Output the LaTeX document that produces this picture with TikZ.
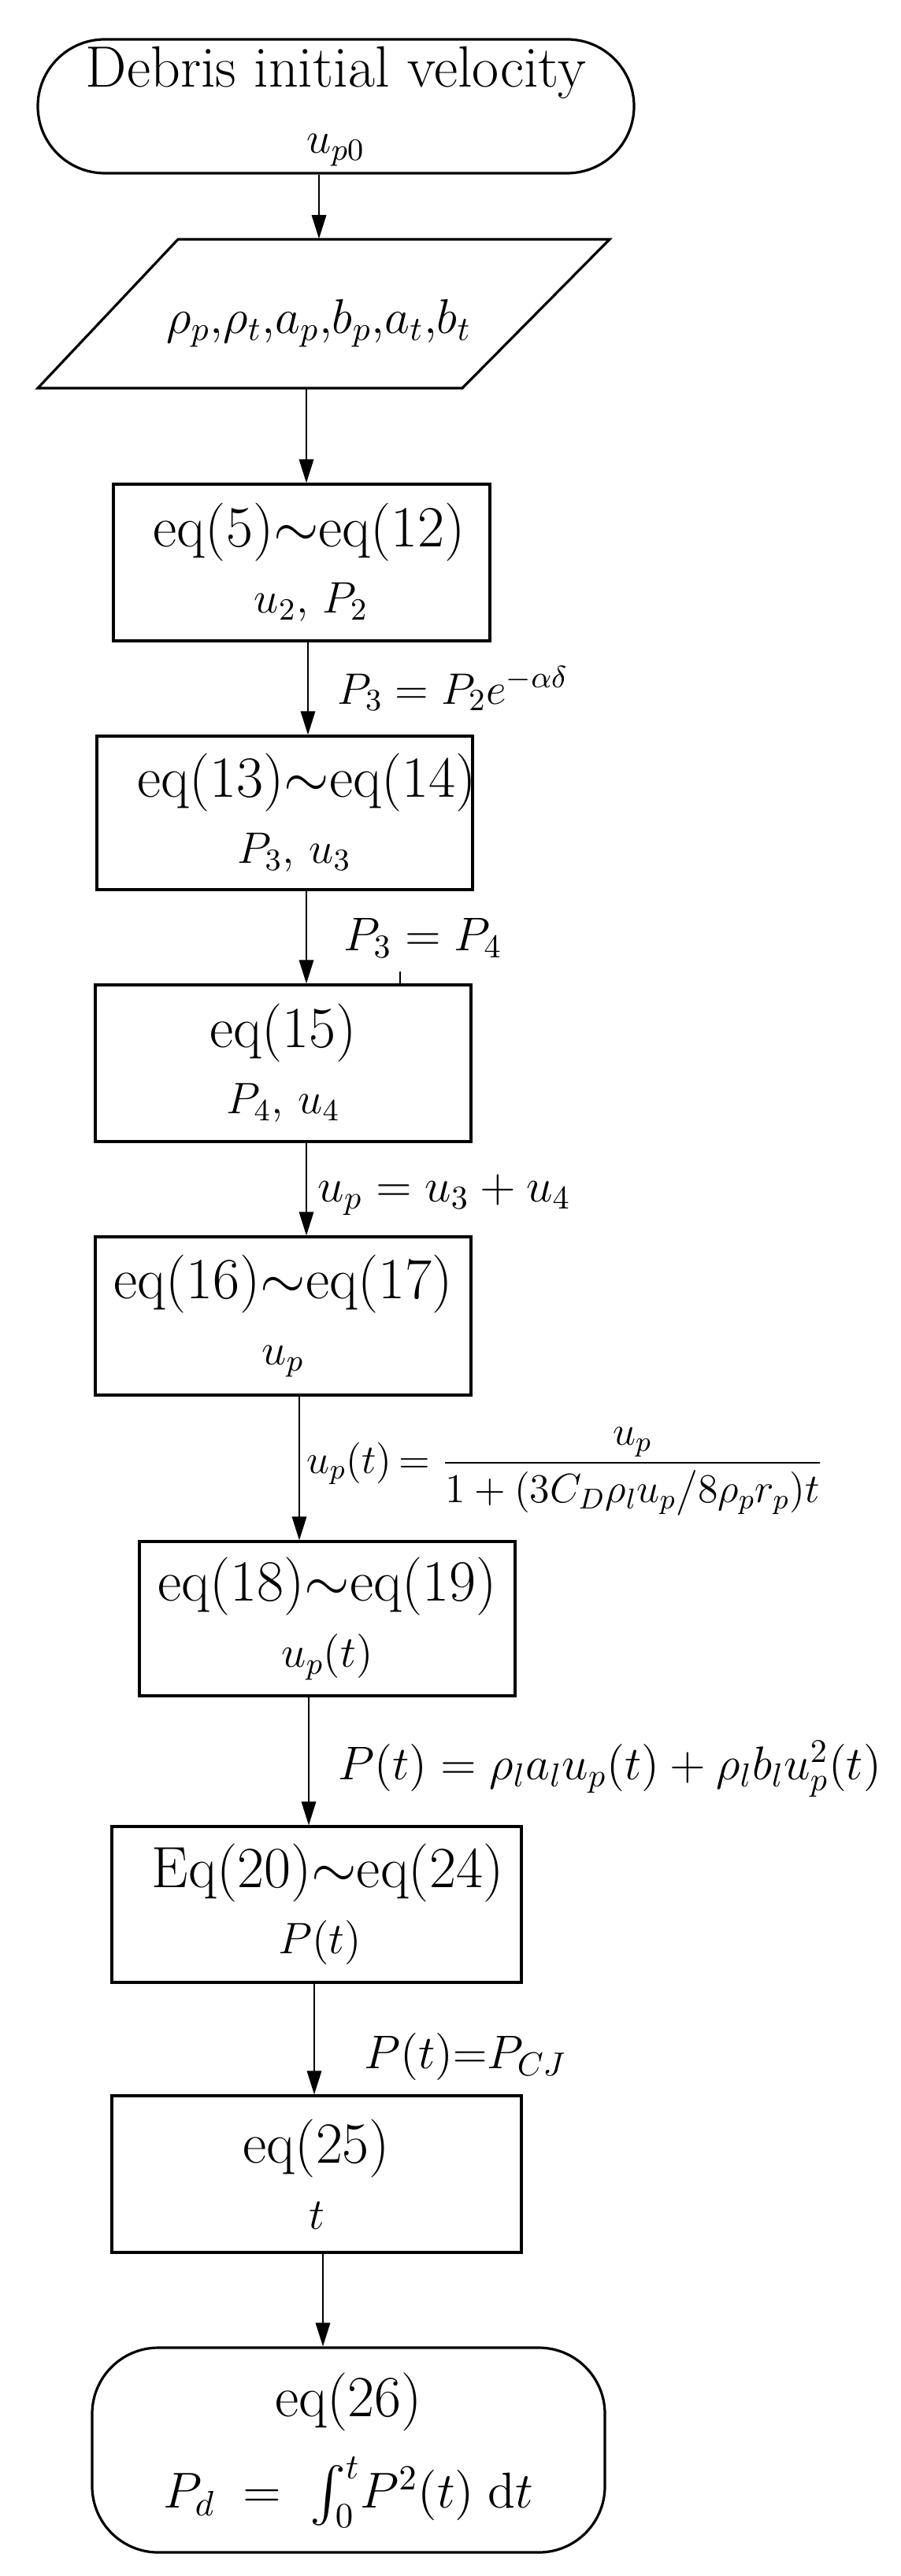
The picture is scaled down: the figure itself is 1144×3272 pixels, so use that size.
\RequirePackage{fix-cm}
\documentclass[tikz,border=0pt]{standalone}
\usepackage{amsmath}
\usetikzlibrary{arrows.meta}
\newcommand\fA{\fontsize{18.5}{21}\selectfont}
\newcommand\fB{\fontsize{14}{21}\selectfont}
\newcommand\fC{\fontsize{15}{18}\selectfont}
\newcommand\fCs{\fontsize{14}{18}\selectfont}
\newcommand\fD{\fontsize{13}{16}\selectfont}
\newcommand\fE{\fontsize{16}{21}\selectfont}
\newcommand\sh[2]{\makebox[0pt]{\hspace*{#1}#2}}
\begin{document}
\begin{tikzpicture}[x=0.25pt,y=-0.25pt,
  box/.style={draw, line width=0.8pt, inner sep=0pt, align=center, font=\fA},
  arr/.style={line width=0.5pt, -{Triangle[length=7.5pt,width=4.6pt]}},
  lab/.style={anchor=base west, inner sep=0pt, font=\fC},
]
\fill[white] (0,0) rectangle (1144,3272);
\useasboundingbox (0,0) rectangle (1144,3272);

% arrow x positions
\coordinate (x1) at (405,0);
\coordinate (x2) at (389,0);
\coordinate (x3) at (391,0);
\coordinate (x4) at (389,0);
\coordinate (x5) at (389,0);
\coordinate (x6) at (380,0);
\coordinate (x7) at (392,0);
\coordinate (x8) at (399,0);
\coordinate (x9) at (410,0);
\coordinate (xt) at (508,0);

% nodes
\node[box, rounded corners=21.25pt, minimum width=189.25pt, minimum height=42.5pt] (start) at (426.5,135)
  {Debris initial velocity\\{\fB$u_{p0}$}};

\node[inner sep=0pt, minimum width=137pt, minimum height=47.25pt, font=\fontsize{15.5}{18}\selectfont] (para) at (405,398.5)
  {\raisebox{-3pt}[\height][\depth]{$\rho_p{,}\rho_t{,}a_p{,}b_p{,}a_t{,}b_t$}};
\draw[line width=0.8pt, line join=miter] (226,304) -- (774,304) -- (587,493) -- (48,493) -- cycle;

\node[box, minimum width=119.5pt, minimum height=49.75pt] (b1) at (383,714.5)
  {\sh{5pt}{eq(5)$\sim$eq(12)}\\{\fB\sh{6pt}{$u_2$, $P_2$}}};
\node[box, minimum width=119.25pt, minimum height=48.75pt] (b2) at (361.5,1032.5)
  {\sh{14pt}{eq(13)$\sim$eq(14)}\\{\fB\sh{6pt}{$P_3$, $u_3$}}};
\node[box, minimum width=119.25pt, minimum height=49.75pt] (b3) at (359.5,1350.5)
  {eq(15)\\{\fB$P_4$, $u_4$}};
\node[box, minimum width=119.25pt, minimum height=50.25pt] (b4) at (359.5,1671.5)
  {eq(16)$\sim$eq(17)\\{\fB$u_p$}};
\node[box, minimum width=119.25pt, minimum height=49pt] (b5) at (415.5,2056)
  {eq(18)$\sim$eq(19)\\{\fB$u_p(t)$}};
\node[box, minimum width=130pt, minimum height=49.5pt] (b6) at (402,2419)
  {\sh{7pt}{Eq(20)$\sim$eq(24)}\\{\fB\sh{2pt}{$P(t)$}}};
\node[box, minimum width=130pt, minimum height=49.75pt] (b7) at (402,2761.5)
  {eq(25)\\{\fB$t$}};
\node[box, rounded corners=21pt, minimum width=162.75pt, minimum height=65pt] (end) at (442.5,3112)
  {eq(26)\\[8pt]{\fE$P_d \;=\; \int_0^t \! P^2(t)\;\mathrm{d}t$}};

% connectors
\draw[arr] (start.south -| x1) -- (para.north -| x1);
\draw[arr] (para.south -| x2) -- (b1.north -| x2);
\draw[arr] (b1.south -| x3) -- (b2.north -| x3);
\draw[arr] (b2.south -| x4) -- (b3.north -| x4);
\draw[line width=0.3pt] (b3.north -| xt) -- ++(0,-15);
\draw[arr] (b3.south -| x5) -- (b4.north -| x5);
\draw[arr] (b4.south -| x6) -- (b5.north -| x6);
\draw[arr] (b5.south -| x7) -- (b6.north -| x7);
\draw[arr] (b6.south -| x8) -- (b7.north -| x8);
\draw[arr] (b7.south -| x9) -- (end.north -| x9);

% labels
\node[lab, font=\fCs] (l3) at (428,894) {$P_3 = P_2e^{-\alpha\delta}$};
\node[lab] (l4) at (436,1207) {$P_3 = P_4$};
\node[lab] (l5) at (403,1526) {$u_p = u_3 + u_4$};
\node[lab, font=\fD] (l6) at (389,1871) {$u_p(t)\mkern-2mu=\dfrac{u_p}{1+(3C_D\rho_l u_p\big/8\rho_p r_p)t}$};
\node[lab] (l7) at (429,2260) {$P(t) = \rho_l a_l u_p(t) + \rho_l b_l u_p^2(t)$};
\node[lab] (l8) at (462,2627) {$P(t)$=$P_{CJ}$};
\end{tikzpicture}
\end{document}
